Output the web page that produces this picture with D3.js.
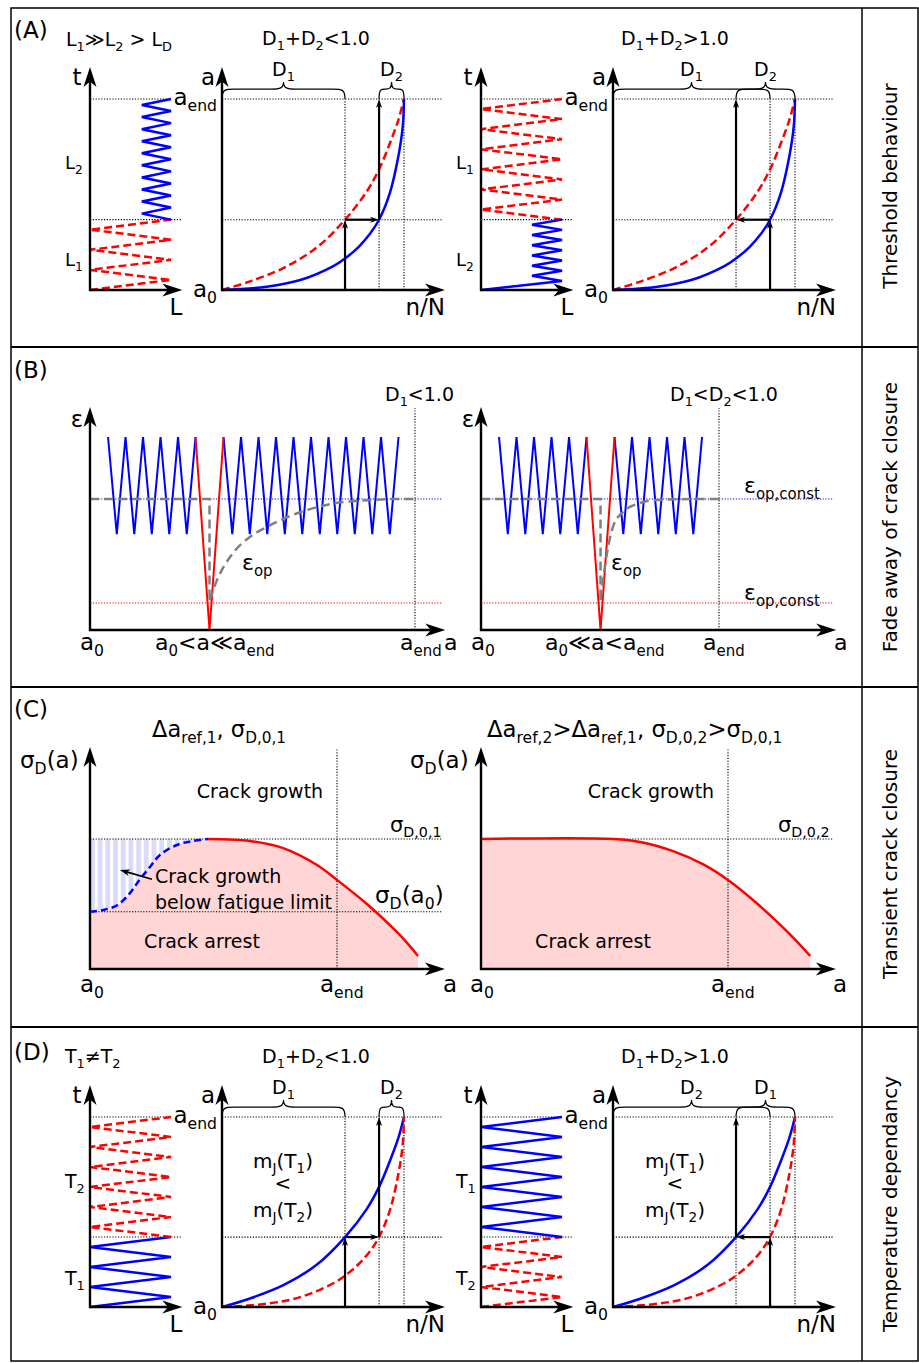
<!DOCTYPE html>
<meta charset="utf-8">
<script src="https://d3js.org/d3.v7.min.js"></script>
<style>
  body { margin: 0; background: #fff; }
  svg { display: block; font-family: 'DejaVu Sans', Verdana, sans-serif; }
  text { fill: #000; }
</style>
<body>
<script>
// ---------- data ----------
const rowLabels = ['Threshold behaviour', 'Fade away of crack closure', 'Transient crack closure', 'Temperature dependancy'];

// load sequences [L, t]; t in half cycles of the coarse blocks (19 = a_end)
const loadLow = [[0,0],[1,1],[0,2],[1,3],[0,4],[1,5],[0,6],[1,7]];
const loadHigh = [[1,7],[0,8],[1,9],[0,10],[1,11],[0,12],[1,13],[0,14],[1,15],[0,16],[1,17],[0,18],[1,19]];
const loadFineTop = [[1,7],[0.64,7.6],[1,8.2],[0.64,8.8],[1,9.4],[0.64,10],[1,10.6],[0.64,11.2],[1,11.8],[0.64,12.4],
  [1,13],[0.64,13.6],[1,14.2],[0.64,14.8],[1,15.4],[0.64,16],[1,16.6],[0.64,17.2],[1,17.8],[0.64,18.4],[1,19]];
const loadFineLow = [[0,0],[1,0.9],[0.63,1.41],[1,1.92],[0.63,2.42],[1,2.93],[0.63,3.44],[1,3.95],[0.63,4.46],
  [1,4.97],[0.63,5.47],[1,5.98],[0.63,6.49],[1,7]];

// crack growth curves a(n/N), a_end = 1
const nFast = [0, 0.154, 0.337, 0.52, 0.676, 0.795, 0.863, 0.923, 0.969, 1];
const aFast = [0, 0.045, 0.115, 0.222, 0.368, 0.515, 0.632, 0.77, 0.89, 1];
const nSlow = [0, 0.245, 0.43, 0.612, 0.676, 0.75, 0.81, 0.863, 0.923, 0.969, 0.993, 1];
const aSlow = [0, 0.017, 0.052, 0.125, 0.165, 0.225, 0.29, 0.368, 0.51, 0.7, 0.855, 1];
const nCross = [0.676, 0.863];
const aMid = 0.368;

// fade away of crack closure: eps vs crack length (in load cycles)
const epsTop = 1, epsBottom = 0.497, epsOpConst = 0.679, epsOpMin = 0.14;
const zigBefore = [1.03, 1.53, 2.03, 2.53, 3.03, 3.53, 4.03, 4.53, 5.03, 5.53, 6.03];
const overloadX = [6.03, 6.83, 7.63];
const overloadY = [1, 0, 1];
const zigAfterLong = [7.63, 8.13, 8.63, 9.13, 9.63, 10.13, 10.63, 11.13, 11.63, 12.13, 12.63,
  13.13, 13.63, 14.13, 14.63, 15.13, 15.63, 16.13, 16.63, 17.13, 17.63];
const zigAfterShort = [7.63, 8.13, 8.63, 9.13, 9.63, 10.13, 10.63, 11.13, 11.63, 12.13, 12.63];
const aEndB = [18.57, 13.6];
const epsOpLongX = [6.83, 7.26, 8.17, 9.14, 10.1, 12, 13.9, 15.8, 17.5, 18.57];
const epsOpLongY = [0.155, 0.259, 0.399, 0.482, 0.534, 0.61, 0.655, 0.672, 0.679, 0.679];
const epsOpShortX = [6.83, 7.2, 7.54, 8.11, 9.09, 10.06, 12.5, 13.6];
const epsOpShortY = [0.155, 0.399, 0.534, 0.611, 0.658, 0.674, 0.679, 0.679];

// transient crack closure: sigma_D(a) / sigma_D,0 , a / a_end
const sigA0 = 0.44;
const blueSX = [0, 0.053, 0.11, 0.16, 0.2, 0.243, 0.283, 0.352, 0.417, 0.478];
const blueSY = [0.44, 0.454, 0.49, 0.58, 0.685, 0.785, 0.877, 0.954, 0.985, 1];
const redLX = [0.478, 0.648, 0.782, 0.919, 1.0, 1.121, 1.255, 1.328];
const redLY = [1, 0.985, 0.93, 0.8, 0.685, 0.5, 0.26, 0.1];
const redRX = [0, 0.537, 0.65, 0.78, 0.9, 1.0, 1.12, 1.244, 1.333];
const redRY = [1, 1, 0.975, 0.905, 0.805, 0.685, 0.5, 0.28, 0.1];

// ---------- setup ----------
const BLUE = '#0000ff', RED = '#ff0000', GREY = '#808080', PINK = '#ffd5d5';
const svg = d3.select('body').append('svg').attr('width', 919).attr('height', 1363);
const smooth = d3.curveCatmullRom.alpha(0.5);

const pat = svg.append('defs').append('pattern').attr('id', 'hatch')
  .attr('patternUnits', 'userSpaceOnUse').attr('x', 90).attr('width', 7.7).attr('height', 10);
pat.append('rect').attr('width', 7.7).attr('height', 10).attr('fill', '#fff');
pat.append('rect').attr('width', 4.8).attr('height', 10).attr('fill', '#dcdcfa');

function rich(g, x, y, parts, size, anchor) {
  const t = g.append('text').attr('x', x).attr('y', y)
    .attr('font-size', size).attr('text-anchor', anchor || 'start');
  let shift = 0;
  parts.forEach(p => {
    const sub = Array.isArray(p);
    const want = sub ? size * 0.26 : 0;
    const ts = t.append('tspan').attr('dy', want - shift).text(sub ? p[0] : p);
    if (sub) ts.attr('font-size', size * 0.68);
    shift = want;
  });
  return t;
}

function head(g, x, y, ang, l, w) {
  g.append('path')
    .attr('d', `M0,0 L${-l},${-w / 2} L${-0.72 * l},0 L${-l},${w / 2}Z`)
    .attr('transform', `translate(${x},${y}) rotate(${ang})`)
    .attr('fill', '#000');
}

function arrow(g, x1, y1, x2, y2, l, w, sw) {
  const ang = Math.atan2(y2 - y1, x2 - x1) * 180 / Math.PI;
  const len = Math.hypot(x2 - x1, y2 - y1);
  const k = (len - 0.6 * l) / len;
  g.append('line').attr('x1', x1).attr('y1', y1)
    .attr('x2', x1 + (x2 - x1) * k).attr('y2', y1 + (y2 - y1) * k)
    .attr('stroke', '#000').attr('stroke-width', sw);
  head(g, x2, y2, ang, l, w);
}

function dotted(g, x1, y1, x2, y2, color) {
  g.append('line').attr('x1', x1).attr('y1', y1).attr('x2', x2).attr('y2', y2)
    .attr('stroke', color || '#000').attr('stroke-width', 1.1).attr('stroke-dasharray', '1.2,1.6');
}

function brace(g, x1, x2, y, h) {
  const m = (x1 + x2) / 2, q = Math.min(12, (x2 - x1) * 0.25), b = y - h * 0.58;
  g.append('path').attr('fill', 'none').attr('stroke', '#000').attr('stroke-width', 1.2)
    .attr('d', `M${x1},${y} C${x1},${b} ${x1 + q * 0.3},${b} ${x1 + q},${b} L${m - q},${b}` +
      ` C${m - q * 0.3},${b} ${m},${b - 1} ${m},${y - h} C${m},${b - 1} ${m + q * 0.3},${b} ${m + q},${b}` +
      ` L${x2 - q},${b} C${x2 - q * 0.3},${b} ${x2},${b} ${x2},${y}`);
}

function path(g, d, color, sw, dash) {
  return g.append('path').attr('d', d).attr('fill', 'none').attr('stroke', color)
    .attr('stroke-width', sw).attr('stroke-dasharray', dash || null);
}

// ---------- frame ----------
const frame = svg.append('g').attr('fill', 'none').attr('stroke', '#000');
frame.append('rect').attr('x', 11).attr('y', 8).attr('width', 907).attr('height', 1353).attr('stroke-width', 1.5);
[347, 687, 1027].forEach(y => frame.append('line').attr('x1', 11).attr('x2', 918).attr('y1', y).attr('y2', y).attr('stroke-width', 2));
frame.append('line').attr('x1', 862).attr('x2', 862).attr('y1', 8).attr('y2', 1361).attr('stroke-width', 1.5);

[186, 517, 864, 1204].forEach((cy, i) => {
  svg.append('text').attr('transform', `translate(897,${cy}) rotate(-90)`)
    .attr('text-anchor', 'middle').attr('font-size', 20).text(rowLabels[i]);
});

// ---------- A and D: load sequence + growth ----------
function damagePanel(o) {
  const g = svg.append('g');
  const xL = d3.scaleLinear().domain([0, 1]).range([o.lx, o.lx + 81]);
  const yT = d3.scaleLinear().domain([0, 19]).range([o.base, o.top]);
  const xN = d3.scaleLinear().domain([0, 1]).range([o.gx, o.gx + 182]);
  const yA = d3.scaleLinear().domain([0, 1]).range([o.base, o.top]);

  dotted(g, xL(0), yT(19), xL(1), yT(19));
  dotted(g, xL(0), yT(7), xL(1.14), yT(7));
  dotted(g, xN(0), yA(1), xN(1.215), yA(1));
  dotted(g, xN(0), yA(aMid), xN(1.215), yA(aMid));
  [...nCross, 1].forEach(n => dotted(g, xN(n), yA(0), xN(n), yA(1)));

  const lineL = d3.line().x(d => xL(d[0])).y(d => yT(d[1]));
  o.load.forEach(s => path(g, lineL(s.pts), s.color, 2.5, s.dash ? '8,4' : null));

  const lineC = d3.line().x(d => xN(d[0])).y(d => yA(d[1])).curve(smooth);
  o.curves.forEach(c => path(g, lineC(d3.zip(c.n, c.a)), c.color, 2.5, c.dash ? '8,4' : null));

  o.steps.forEach(s => arrow(g, xN(s[0][0]), yA(s[0][1]), xN(s[1][0]), yA(s[1][1]), 9, 6, 2.2));

  o.braces.forEach(b => {
    brace(g, xN(b[0]), xN(b[1]), yA(1), 17);
    rich(g, (xN(b[0]) + xN(b[1])) / 2, yA(1) - 23, ['D', [b[2]]], 19, 'middle');
  });

  // axes
  arrow(g, xL(0), o.base + 1, xL(0), o.top - 32, 20, 13, 2.4);
  arrow(g, xL(0) - 1, o.base, xL(1.14), o.base, 20, 13, 2.4);
  arrow(g, xN(0), o.base + 1, xN(0), o.top - 32, 20, 13, 2.4);
  arrow(g, xN(0) - 1, o.base, xN(1.225), o.base, 20, 13, 2.4);

  rich(g, xL(0) - 13, o.top - 14, ['t'], 23, 'middle');
  rich(g, xL(0) + 86, o.base + 25, ['L'], 23, 'middle');
  rich(g, xN(0) - 14, o.top - 14, ['a'], 23, 'middle');
  rich(g, xN(0) - 5, o.top + 6, ['a', ['end']], 23, 'end');
  rich(g, xN(0) - 5, o.base + 7, ['a', ['0']], 23, 'end');
  rich(g, xN(0) + 223, o.base + 25, ['n/N'], 23, 'end');
  o.loadLabels.forEach(l => rich(g, xL(0) - 25, yT(l[2]), [l[0], [l[1]]], o.loadLabelSize, 'start'));
  rich(g, o.titleX, o.top - 54, ['D', ['1'], '+D', ['2'], o.titleRel + '1.0'], 19, 'middle');
  return g;
}

const upFirst = [[[nCross[0], 0], [nCross[0], aMid]], [[nCross[0], aMid], [nCross[1], aMid]], [[nCross[1], aMid], [nCross[1], 1]]];
const upSecond = [[[nCross[1], 0], [nCross[1], aMid]], [[nCross[1], aMid], [nCross[0], aMid]], [[nCross[0], aMid], [nCross[0], 1]]];

// (A) threshold behaviour
const gA1 = damagePanel({ lx: 90, gx: 222, base: 290, top: 99, titleX: 316, titleRel: '<',
  load: [{ pts: loadLow, color: RED, dash: true }, { pts: loadFineTop, color: BLUE }],
  curves: [{ n: nFast, a: aFast, color: RED, dash: true }, { n: nSlow, a: aSlow, color: BLUE }],
  steps: upFirst, braces: [[0, nCross[0], '1'], [nCross[1], 1, '2']],
  loadLabels: [['L', '2', 12], ['L', '1', 2.4]], loadLabelSize: 18 });
rich(gA1, 14, 38, ['(A)'], 23);
rich(gA1, 66, 46, ['L', ['1'], '≫L', ['2'], ' > L', ['D']], 19);

damagePanel({ lx: 481, gx: 613, base: 290, top: 99, titleX: 675, titleRel: '>',
  load: [{ pts: loadHigh, color: RED, dash: true }, { pts: loadFineLow, color: BLUE }],
  curves: [{ n: nFast, a: aFast, color: RED, dash: true }, { n: nSlow, a: aSlow, color: BLUE }],
  steps: upSecond, braces: [[0, nCross[1], '1'], [nCross[0], 1, '2']],
  loadLabels: [['L', '1', 12], ['L', '2', 2.4]], loadLabelSize: 18 });

// (D) temperature dependancy
const gD1 = damagePanel({ lx: 90, gx: 222, base: 1307, top: 1117, titleX: 316, titleRel: '<',
  load: [{ pts: loadLow, color: BLUE }, { pts: loadHigh, color: RED, dash: true }],
  curves: [{ n: nFast, a: aFast, color: BLUE }, { n: nSlow, a: aSlow, color: RED, dash: true }],
  steps: upFirst, braces: [[0, nCross[0], '1'], [nCross[1], 1, '2']],
  loadLabels: [['T', '2', 11.9], ['T', '1', 2.2]], loadLabelSize: 19 });
rich(gD1, 14, 1060, ['(D)'], 23);
rich(gD1, 65, 1063, ['T', ['1'], '≠T', ['2']], 19);

const gD2 = damagePanel({ lx: 481, gx: 613, base: 1307, top: 1117, titleX: 675, titleRel: '>',
  load: [{ pts: loadLow, color: RED, dash: true }, { pts: loadHigh, color: BLUE }],
  curves: [{ n: nFast, a: aFast, color: BLUE }, { n: nSlow, a: aSlow, color: RED, dash: true }],
  steps: upSecond, braces: [[0, nCross[1], '2'], [nCross[0], 1, '1']],
  loadLabels: [['T', '1', 11.9], ['T', '2', 2.2]], loadLabelSize: 19 });

[[283, gD1], [675, gD2]].forEach(([cx, g]) => {
  rich(g, cx, 1168, ['m', ['J'], '(T', ['1'], ')'], 20, 'middle');
  rich(g, cx, 1190, ['<'], 20, 'middle');
  rich(g, cx, 1217, ['m', ['J'], '(T', ['2'], ')'], 20, 'middle');
});

// ---------- B: fade away of crack closure ----------
function fadePanel(o) {
  const g = svg.append('g');
  const x = d3.scaleLinear().domain([0, 1]).range([o.ox, o.ox + 17.5]);
  const y = d3.scaleLinear().domain([0, 1]).range([630, 437]);

  dotted(g, x(0), y(epsOpConst), x(20.15), y(epsOpConst), BLUE);
  dotted(g, x(0), y(epsOpMin), x(20.15), y(epsOpMin), RED);
  dotted(g, x(o.aEnd), y(0), x(o.aEnd), y(1.15));

  const line = d3.line().x(d => x(d[0])).y(d => y(d[1]));
  const zig = xs => xs.map((v, i) => [v, i % 2 ? epsBottom : epsTop]);
  path(g, line(zig(zigBefore)), BLUE, 2);
  path(g, line(zig(o.after)), BLUE, 2);
  path(g, line(d3.zip(overloadX, overloadY)), RED, 2);

  path(g, line([[0, epsOpConst], [overloadX[1], epsOpConst], [overloadX[1], o.opY[0]]]), GREY, 2.5, '9,5');
  path(g, line.curve(d3.curveMonotoneX)(d3.zip(o.opX, o.opY)), GREY, 2.5, '9,5');

  arrow(g, x(0), y(0) + 1, x(0), y(1.155), 20, 13, 2.4);
  arrow(g, x(0) - 1, y(0), x(20.3), y(0), 20, 13, 2.4);
  rich(g, x(0) - 13, 427, ['ε'], 23, 'middle');
  rich(g, x(0) - 10, 650, ['a', ['0']], 23);
  return g;
}

const gB1 = fadePanel({ ox: 90, aEnd: aEndB[0], after: zigAfterLong, opX: epsOpLongX, opY: epsOpLongY });
rich(gB1, 14, 378, ['(B)'], 23);
rich(gB1, 155, 650, ['a', ['0'], '<a≪a', ['end']], 22);
rich(gB1, 400, 650, ['a', ['end']], 22);
rich(gB1, 444, 650, ['a'], 22);
rich(gB1, 385, 401, ['D', ['1'], '<1.0'], 19);
rich(gB1, 242, 570, ['ε', ['op']], 22);

const gB2 = fadePanel({ ox: 481, aEnd: aEndB[1], after: zigAfterShort, opX: epsOpShortX, opY: epsOpShortY });
rich(gB2, 545, 650, ['a', ['0'], '≪a<a', ['end']], 22);
rich(gB2, 703, 650, ['a', ['end']], 22);
rich(gB2, 834, 650, ['a'], 22);
rich(gB2, 670, 401, ['D', ['1'], '<D', ['2'], '<1.0'], 19);
rich(gB2, 611, 570, ['ε', ['op']], 22);
rich(gB2, 744, 493, ['ε', ['op,const']], 22);
rich(gB2, 744, 600, ['ε', ['op,const']], 22);

// ---------- C: transient crack closure ----------
function closurePanel(o) {
  const g = svg.append('g');
  const x = d3.scaleLinear().domain([0, 1]).range([o.ox, o.ox + 247]);
  const y = d3.scaleLinear().domain([0, 1]).range([969, 839]);
  const all = o.parts.flatMap(p => d3.zip(p.x, p.y));
  const area = d3.area().x(d => x(d[0])).y0(y(0)).y1(d => y(d[1])).curve(smooth);
  g.append('path').attr('d', area(all)).attr('fill', PINK);
  if (o.hatch) {
    const h = d3.area().x(d => x(d[0])).y0(y(1)).y1(d => y(d[1])).curve(smooth);
    g.append('path').attr('d', h(d3.zip(o.hatch.x, o.hatch.y))).attr('fill', 'url(#hatch)');
  }
  o.levels.forEach(v => dotted(g, x(0), y(v), x(1.425), y(v)));
  dotted(g, x(1), y(0), x(1), y(1.7));

  const line = d3.line().x(d => x(d[0])).y(d => y(d[1])).curve(smooth);
  o.parts.forEach(p => path(g, line(d3.zip(p.x, p.y)), p.color, 2.5, p.dash ? '7,4' : null));

  arrow(g, x(0), y(0) + 1, x(0), y(1.708), 20, 13, 2.4);
  arrow(g, x(0) - 1, y(0), x(1.437), y(0), 20, 13, 2.4);
  if (o.note) arrow(g, x(o.note[0][0]), y(o.note[0][1]), x(o.note[1][0]), y(o.note[1][1]), 10, 7, 1.6);
  return g;
}

const gC1 = closurePanel({ ox: 90, levels: [1, sigA0],
  parts: [{ x: blueSX, y: blueSY, color: BLUE, dash: true }, { x: redLX, y: redLY, color: RED }],
  hatch: { x: blueSX, y: blueSY }, note: [[0.251, 0.69], [0.121, 0.762]] });
rich(gC1, 14, 717, ['(C)'], 23);
rich(gC1, 20, 768, ['σ', ['D'], '(a)'], 23);
rich(gC1, 152, 737, ['Δa', ['ref,1'], ', σ', ['D,0,1']], 22.5);
rich(gC1, 260, 798, ['Crack growth'], 19, 'middle');
rich(gC1, 390, 832, ['σ', ['D,0,1']], 21);
rich(gC1, 375, 903, ['σ', ['D'], '(a', ['0'], ')'], 23);
rich(gC1, 155, 883, ['Crack growth'], 19);
rich(gC1, 155, 909, ['below fatigue limit'], 19);
rich(gC1, 202, 948, ['Crack arrest'], 19, 'middle');
rich(gC1, 80, 992, ['a', ['0']], 23);
rich(gC1, 320, 992, ['a', ['end']], 23);
rich(gC1, 443, 992, ['a'], 23);

const gC2 = closurePanel({ ox: 481, levels: [1],
  parts: [{ x: redRX, y: redRY, color: RED }] });
rich(gC2, 410, 768, ['σ', ['D'], '(a)'], 23);
rich(gC2, 487, 737, ['Δa', ['ref,2'], '>Δa', ['ref,1'], ', σ', ['D,0,2'], '>σ', ['D,0,1']], 22.8);
rich(gC2, 651, 798, ['Crack growth'], 19, 'middle');
rich(gC2, 778, 832, ['σ', ['D,0,2']], 21);
rich(gC2, 593, 948, ['Crack arrest'], 19, 'middle');
rich(gC2, 470, 992, ['a', ['0']], 23);
rich(gC2, 711, 992, ['a', ['end']], 23);
rich(gC2, 833, 992, ['a'], 23);
</script>
</body>
